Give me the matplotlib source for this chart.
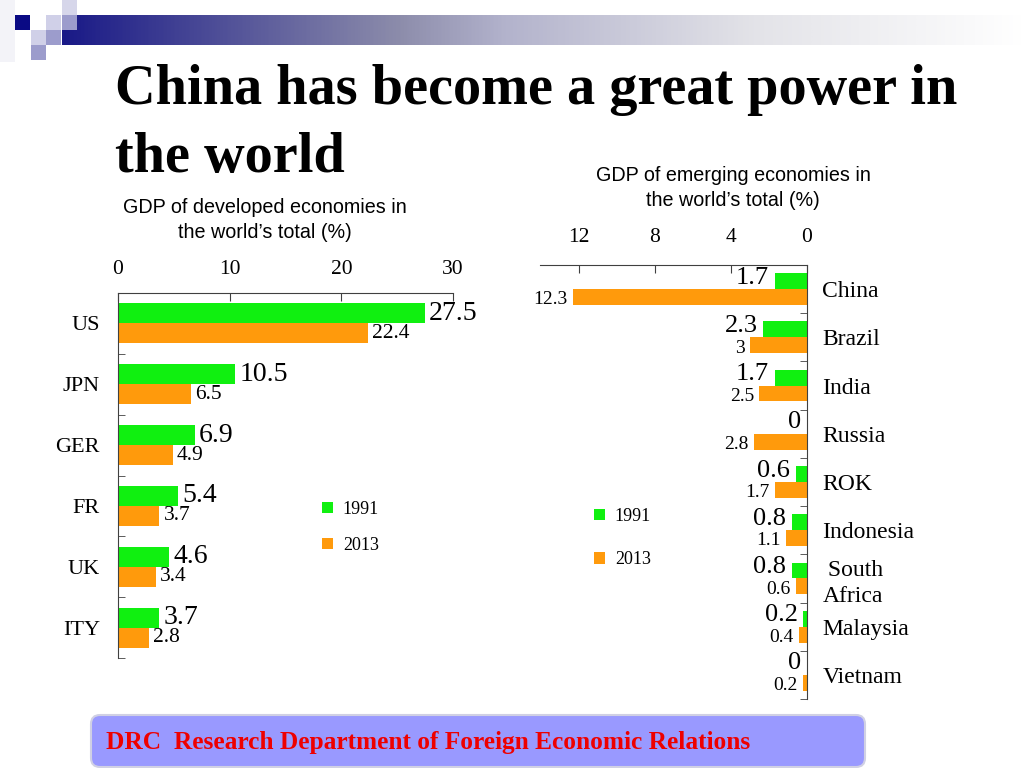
import numpy as np
import matplotlib
matplotlib.use("Agg")
import matplotlib.pyplot as plt
from matplotlib.patches import Rectangle, FancyBboxPatch
from matplotlib.colors import LinearSegmentedColormap

# ---------------- data ----------------
years = ["1991", "2013"]
dev_countries = ["US", "JPN", "GER", "FR", "UK", "ITY"]
dev_1991 = [27.5, 10.5, 6.9, 5.4, 4.6, 3.7]
dev_2013 = [22.4, 6.5, 4.9, 3.7, 3.4, 2.8]
dev_ticks = [0, 10, 20, 30]

emg_countries = ["China", "Brazil", "India", "Russia", "ROK", "Indonesia",
                 " South\nAfrica", "Malaysia", "Vietnam"]
emg_1991 = [1.7, 2.3, 1.7, 0, 0.6, 0.8, 0.8, 0.2, 0]
emg_2013 = [12.3, 3, 2.5, 2.8, 1.7, 1.1, 0.6, 0.4, 0.2]
emg_ticks = [12, 8, 4, 0]

title_lines = ["China has become a great power in", "the world"]
dev_title = "GDP of developed economies in\nthe world\u2019s total (%)"
emg_title = "GDP of emerging economies in\nthe world\u2019s total (%)"
footer = "DRC  Research Department of Foreign Economic Relations"

GREEN = "#10f010"
ORANGE = "#ff9a0c"
SERIF = "Liberation Serif"
SANS = "Liberation Sans"

W, H = 1024, 768
fig = plt.figure(figsize=(W / 100, H / 100), dpi=100)

# ---------------- background decorations (pixel coords) ----------------
bg = fig.add_axes([0, 0, 1, 1])
bg.set_xlim(0, W)
bg.set_ylim(H, 0)
bg.axis("off")

cmap = LinearSegmentedColormap.from_list(
    "hdr",
    [(0.0, (0.10, 0.10, 0.53)), (0.35, (0.55, 0.55, 0.67)),
     (0.46, (0.70, 0.70, 0.80)), (0.72, (0.89, 0.89, 0.91)),
     (1.0, (1.0, 1.0, 1.0))])
grad = np.linspace(0, 1, 512).reshape(1, -1)
bg.imshow(grad, cmap=cmap, extent=(62, W, 45, 15), aspect="auto", zorder=1)
bg.add_patch(Rectangle((0, 0), 15, 62, facecolor="#f3f3f8", edgecolor="none", zorder=1))
squares = [((15, 15), "#0a0a84"), ((62, 0), "#d6d6ea"), ((46, 15), "#d0d0e8"),
           ((62, 15), "#9c9ccc"), ((31, 30), "#d0d0e8"), ((46, 30), "#9c9ccc"),
           ((31, 45), "#9c9ccc")]
for (x, y), c in squares:
    bg.add_patch(Rectangle((x, y), 15, 15, facecolor=c, edgecolor="none", zorder=2))
bg.set_xlim(0, W)
bg.set_ylim(H, 0)

# footer box
bg.add_patch(FancyBboxPatch((93, 717), 770, 48, boxstyle="round,pad=0,rounding_size=9",
                            facecolor="#c8c8d4", edgecolor="none", zorder=1))
bg.add_patch(FancyBboxPatch((91, 715), 774, 52, boxstyle="round,pad=0,rounding_size=9",
                            facecolor="#9999ff", edgecolor="#d0d0e4", linewidth=1.5, zorder=2))
bg.text(106, 743, footer, color="#ee0000", fontsize=18.3, fontweight="bold",
        family=SERIF, va="center", ha="left", zorder=3)

# title
fig.text(115 / W, 1 - 104 / H, title_lines[0], fontsize=40.5, fontweight="bold",
         family=SERIF, va="baseline", ha="left")
fig.text(115 / W, 1 - 172 / H, title_lines[1], fontsize=40.5, fontweight="bold",
         family=SERIF, va="baseline", ha="left")

# subtitles
fig.text(265 / W, 1 - 220 / H, dev_title, fontsize=14.2, family=SANS,
         ha="center", va="center", linespacing=1.4)
fig.text(733 / W, 1 - 188 / H, emg_title, fontsize=14.2, family=SANS,
         ha="center", va="center", linespacing=1.4)

BH = 0.33

# ---------------- left chart: developed ----------------
ax1 = fig.add_axes([118 / W, 1 - 658 / H, 335 / W, 365 / H])
n1 = len(dev_countries)
yc = np.arange(n1) + 0.5
b1 = ax1.barh(yc - BH / 2, dev_1991, height=BH, color=GREEN, zorder=2)
b2 = ax1.barh(yc + BH / 2, dev_2013, height=BH, color=ORANGE, zorder=2)
ax1.set_xlim(0, 30)
ax1.set_ylim(n1, 0)
ax1.xaxis.tick_top()
ax1.set_xticks(dev_ticks)
ax1.set_xticklabels([str(t) for t in dev_ticks], family=SERIF, fontsize=15.5)
ax1.tick_params(axis="x", direction="in", length=6, pad=10, color="#404040")
ax1.set_yticks(yc)
ax1.set_yticklabels(dev_countries, family=SERIF, fontsize=16)
ax1.tick_params(axis="y", which="major", length=0, pad=13)
ax1.set_yticks(np.arange(n1 + 1), minor=True)
ax1.tick_params(axis="y", which="minor", direction="in", length=5, color="#404040")
for s in ["right", "bottom"]:
    ax1.spines[s].set_visible(False)
for s in ["top", "left"]:
    ax1.spines[s].set_color("#404040")
for v, y in zip(dev_1991, yc - BH / 2):
    ax1.annotate(f"{v:g}", (v, y), xytext=(3, 0),
                 textcoords="offset points", ha="left", va="center",
                 family=SERIF, fontsize=20)
for v, y in zip(dev_2013, yc + BH / 2):
    ax1.annotate(f"{v:g}", (v, y), xytext=(3, 0), textcoords="offset points",
                 ha="left", va="center", family=SERIF, fontsize=15.5)
ax1.legend([b1, b2], years, loc="upper left",
           bbox_to_anchor=(322 / W, 1 - 501 / H), bbox_transform=fig.transFigure,
           frameon=False, borderpad=0, borderaxespad=0, handlelength=0.6,
           handleheight=0.6, handletextpad=0.55, labelspacing=1.05,
           prop={"family": SERIF, "size": 13})

# ---------------- right chart: emerging ----------------
ax2 = fig.add_axes([540 / W, 1 - 699 / H, 267 / W, 434 / H])
n2 = len(emg_countries)
yc2 = np.arange(n2) + 0.5
c1 = ax2.barh(yc2 - BH / 2, emg_1991, height=BH, color=GREEN, zorder=2)
c2 = ax2.barh(yc2 + BH / 2, emg_2013, height=BH, color=ORANGE, zorder=2)
ax2.set_xlim(14.05, 0)
ax2.set_ylim(n2, 0)
ax2.xaxis.tick_top()
ax2.set_xticks(emg_ticks)
ax2.set_xticklabels([str(t) for t in emg_ticks], family=SERIF, fontsize=15.5)
ax2.tick_params(axis="x", direction="in", length=6, pad=13, color="#404040")
ax2.yaxis.tick_right()
ax2.set_yticks(yc2)
ax2.set_yticklabels(emg_countries, family=SERIF, fontsize=17, linespacing=1.3)
ax2.tick_params(axis="y", which="major", length=0, pad=11)
ax2.set_yticks(np.arange(n2 + 1), minor=True)
ax2.tick_params(axis="y", which="minor", direction="in", length=5, color="#404040")
for s in ["left", "bottom"]:
    ax2.spines[s].set_visible(False)
for s in ["top", "right"]:
    ax2.spines[s].set_color("#404040")
for v, y in zip(emg_1991, yc2 - BH / 2):
    ax2.annotate(f"{v:g}", (v, y), xytext=(-4, 2.5), textcoords="offset points",
                 ha="right", va="center", family=SERIF, fontsize=19)
for v, y in zip(emg_2013, yc2 + BH / 2):
    ax2.annotate(f"{v:g}", (v, y), xytext=(-4, -2), textcoords="offset points",
                 ha="right", va="center", family=SERIF, fontsize=14)
ax2.legend([c1, c2], years, loc="upper left",
           bbox_to_anchor=(594 / W, 1 - 508 / H), bbox_transform=fig.transFigure,
           frameon=False, borderpad=0, borderaxespad=0, handlelength=0.6,
           handleheight=0.6, handletextpad=0.55, labelspacing=1.45,
           prop={"family": SERIF, "size": 13})

fig.savefig("out.png", dpi=100)
